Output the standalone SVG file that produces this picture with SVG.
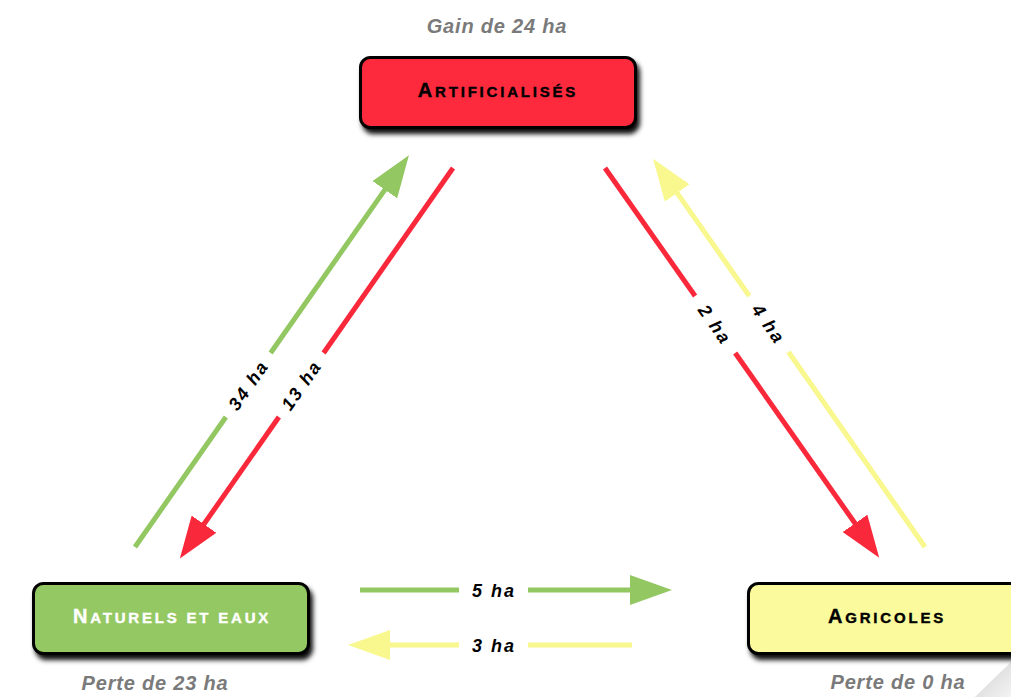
<svg xmlns="http://www.w3.org/2000/svg" width="1011" height="697" viewBox="0 0 1011 697">
<defs>
<style>
.node{stroke:#000;stroke-width:3;filter:url(#sh)}
.nt{font-family:"Liberation Sans",Arial,sans-serif;font-weight:bold;letter-spacing:2.8px;stroke-width:0.4px}
.big{font-size:20px}
.sm{font-size:15px}
.cap{font-family:"Liberation Sans",Arial,sans-serif;font-weight:bold;font-style:italic;font-size:20px;fill:#7a7a7a;letter-spacing:0.8px}
.lab{font-family:"Liberation Sans",Arial,sans-serif;font-weight:bold;font-style:italic;font-size:18px;fill:#000;letter-spacing:2px}
.g{stroke:#93c762;stroke-width:5;fill:none}
.r{stroke:#f9283a;stroke-width:5;fill:none}
.y{stroke:#f8f88e;stroke-width:5;fill:none}
</style>
<filter id="sh" x="-10%" y="-20%" width="120%" height="150%">
<feDropShadow dx="3" dy="5" stdDeviation="2.5" flood-color="#000" flood-opacity="0.95"/>
</filter>
<marker id="mg" markerUnits="userSpaceOnUse" markerWidth="42" markerHeight="30" refX="2" refY="15" orient="auto"><path d="M0,0 L42,15 L0,30 z" fill="#93c762"/></marker>
<marker id="mr" markerUnits="userSpaceOnUse" markerWidth="42" markerHeight="30" refX="2" refY="15" orient="auto"><path d="M0,0 L42,15 L0,30 z" fill="#f9283a"/></marker>
<marker id="my" markerUnits="userSpaceOnUse" markerWidth="42" markerHeight="30" refX="2" refY="15" orient="auto"><path d="M0,0 L42,15 L0,30 z" fill="#f8f88e"/></marker>
<linearGradient id="curl" x1="0" y1="0" x2="1" y2="1">
<stop offset="0" stop-color="#cfcfcf"/>
<stop offset="1" stop-color="#f4f4f4"/>
</linearGradient>
</defs>
<rect width="1011" height="697" fill="#fff"/>
<polygon points="975,697 1011,662 1011,697" fill="url(#curl)"/>

<g id="connectors">
<line class="g" x1="135" y1="547" x2="225.9" y2="417"/>
<line class="g" x1="270.6" y1="353" x2="386" y2="188.1" marker-end="url(#mg)"/>
<text class="lab" text-anchor="middle" transform="translate(248.3,385) rotate(-55)" y="6.5">34 ha</text>
<line class="r" x1="453" y1="168" x2="323.6" y2="353"/>
<line class="r" x1="278.9" y1="417" x2="202.8" y2="525.8" marker-end="url(#mr)"/>
<text class="lab" text-anchor="middle" transform="translate(301.3,385) rotate(-55)" y="6.5">13 ha</text>
<line class="r" x1="605" y1="168" x2="695.1" y2="296"/>
<line class="r" x1="735.2" y1="353" x2="856.2" y2="525" marker-end="url(#mr)"/>
<text class="lab" text-anchor="middle" transform="translate(715.2,324.5) rotate(55)" y="6.5">2 ha</text>
<line class="y" x1="925" y1="547" x2="788.5" y2="352"/>
<line class="y" x1="749.3" y1="296" x2="676" y2="191.4" marker-end="url(#my)"/>
<text class="lab" text-anchor="middle" transform="translate(768.9,324) rotate(55)" y="6.5">4 ha</text>
<line class="g" x1="360" y1="590" x2="459" y2="590"/>
<line class="g" x1="528" y1="590" x2="632" y2="590" marker-end="url(#mg)"/>
<text class="lab" x="494" y="597" text-anchor="middle">5 ha</text>
<line class="y" x1="632" y1="645" x2="528" y2="645"/>
<line class="y" x1="459" y1="645" x2="388" y2="645" marker-end="url(#my)"/>
<text class="lab" x="494" y="652" text-anchor="middle">3 ha</text>
</g>

<g id="artificialises">
<text class="cap" x="497" y="33" text-anchor="middle">Gain de 24 ha</text>
<rect class="node" x="360.5" y="57.5" width="275" height="70" rx="10" fill="#fd2c3c"/>
<text class="nt" x="498" y="97" text-anchor="middle" fill="#000" stroke="#000"><tspan class="big">A</tspan><tspan class="sm">RTIFICIALISÉS</tspan></text>
</g>

<g id="naturels">
<rect class="node" x="33.5" y="583.5" width="275" height="70" rx="10" fill="#94c864"/>
<text class="nt" x="172" y="623" text-anchor="middle" fill="#fff" stroke="#fff"><tspan class="big">N</tspan><tspan class="sm">ATURELS ET EAUX</tspan></text>
<text class="cap" x="155" y="690" text-anchor="middle">Perte de 23 ha</text>
</g>

<g id="agricoles">
<rect class="node" x="748.5" y="583.5" width="290" height="70" rx="10" fill="#fbfb9d"/>
<text class="nt" x="887" y="623" text-anchor="middle" fill="#000" stroke="#000"><tspan class="big">A</tspan><tspan class="sm">GRICOLES</tspan></text>
<text class="cap" x="898" y="689" text-anchor="middle">Perte de 0 ha</text>
</g>
</svg>
